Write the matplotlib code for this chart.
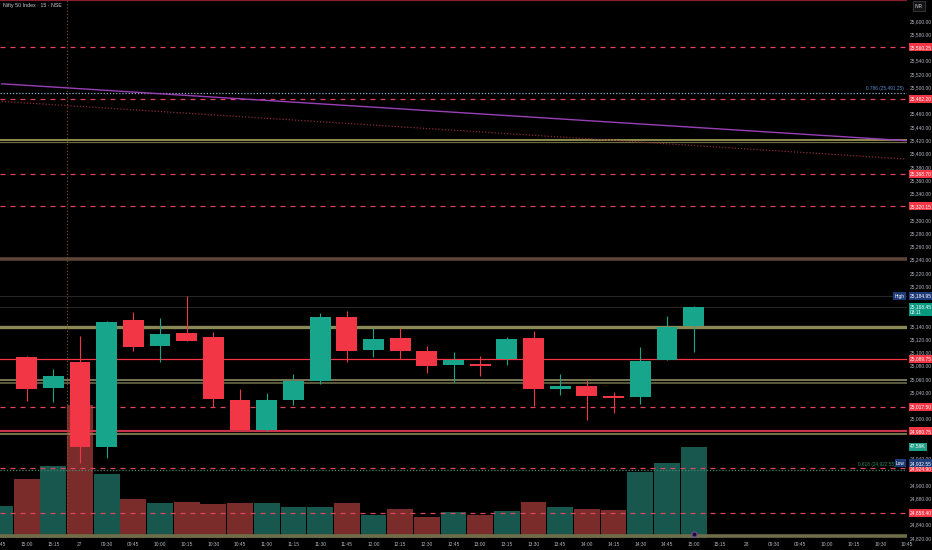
import matplotlib
matplotlib.use('Agg')
import matplotlib.pyplot as plt
import matplotlib.transforms as mtransforms

plt.rcParams['font.family'] = ['Liberation Sans', 'DejaVu Sans']

# ---------------- data ----------------
title = "Nifty 50 Index · 15 · NSE"

candle_idx = list(range(26))
opens  = [25093.3, 25045.7, 25085.3, 24957.9, 25148.5, 25109.9, 25129.0, 25122.5, 25028.1, 24983.4,
          25028.1, 25057.2, 25154.1, 25103.4, 25121.0, 25101.4, 25080.8, 25082.0, 25089.8, 25121.9,
          25044.7, 25049.7, 25034.6, 25032.0, 25088.8, 25140.0]
highs  = [25095.0, 25074.8, 25124.9, 25147.5, 25161.6, 25151.5, 25184.95, 25131.5, 25044.7, 25038.7,
          25067.3, 25159.1, 25162.5, 25137.5, 25137.5, 25108.9, 25099.9, 25094.8, 25122.5, 25132.4,
          25067.3, 25058.7, 25039.7, 25107.4, 25155.0, 25170.0]
lows   = [25027.1, 25024.7, 24932.55, 24940.4, 25102.3, 25084.9, 25117.0, 25017.1, 24982.5, 24982.0,
          25021.1, 25052.2, 25084.9, 25092.4, 25089.8, 25068.8, 25055.7, 25064.7, 25080.8, 25018.7,
          25035.7, 24998.5, 25008.6, 25022.1, 25088.0, 25099.9]
closes = [25045.1, 25063.8, 24957.9, 25146.6, 25108.3, 25127.5, 25117.4, 25029.6, 24983.4, 25028.6,
          25057.2, 25154.1, 25102.3, 25120.0, 25101.4, 25078.9, 25088.8, 25080.0, 25120.0, 25044.7,
          25048.8, 25033.7, 25031.6, 25087.3, 25138.4, 25168.45]

vol_idx = list(range(-1, 26))
volumes_k = [16.7, 30.7, 37.5, 69.3, 33.5, 20.3, 18.4, 18.9, 17.7, 18.1, 18.4, 16.3, 16.0, 18.4,
             12.0, 15.1, 11.1, 13.4, 12.0, 14.1, 18.9, 16.2, 15.0, 14.6, 34.4, 39.2, 47.59]
vol_dir = ['up', 'down', 'up', 'down', 'up', 'down', 'up', 'down', 'down', 'down', 'up', 'up', 'up',
           'down', 'up', 'down', 'down', 'up', 'down', 'up', 'down', 'up', 'down', 'down', 'up', 'up', 'up']

x_tick_pos = list(range(-1, 34))
x_tick_labels = ["14:45", "15:00", "15:15", "27", "09:30", "09:45", "10:00", "10:15", "10:30", "10:45",
                 "11:00", "11:15", "11:30", "11:45", "12:00", "12:15", "12:30", "12:45", "13:00", "13:15",
                 "13:30", "13:45", "14:00", "14:15", "14:30", "14:45", "15:00", "15:15", "28", "09:30",
                 "09:45", "10:00", "10:15", "10:30", "10:45"]

price_ticks = [24820, 24840, 24880, 24900, 24940, 25000, 25040, 25060, 25080, 25100, 25120, 25140,
               25200, 25220, 25240, 25260, 25280, 25300, 25340, 25360, 25380, 25400, 25420, 25440,
               25460, 25500, 25520, 25540, 25580, 25600]

dashed_levels = [25560.25, 25482.20, 25368.70, 25320.15, 25017.50, 24924.90, 24858.40]
red_solid_levels = [25089.75, 24980.75]
olive_levels = [25419.8, 25416.8, 25139.0, 25058.0, 25053.5, 24977.0, 24823.5]
brown_level = 25240.3
top_level = 25631.0
high_val, low_val, last_val = 25184.95, 24932.55, 25168.45
fib_786, fib_618 = 25491.25, 24922.55
session_break = 1.5

trend_x = [-0.934, 32.96]
purple_trend = [25505.2, 25419.4]
red_trend = [25478.6, 25391.7]

# ---------------- styles ----------------
BG = '#000000'
UP = '#17a68c'
DN = '#f23645'
VUP = '#17574d'
VDN = '#7a2c2b'
AXC = '#b2b5be'

fig = plt.figure(figsize=(9.32, 5.5), dpi=100, facecolor=BG)
ax2 = fig.add_axes([0, 12/550, 907/932, 538/550])
ax = fig.add_axes([0, 12/550, 907/932, 538/550], sharex=ax2)
ax2.set_facecolor(BG)
ax.patch.set_visible(False)

xlim = (-0.934, 32.96)
ylim = (24821.96, 25631.6)
ax.set_xlim(*xlim)
ax.set_ylim(*ylim)

# volume
ax2.bar(vol_idx, volumes_k, width=0.97, color=[VUP if d == 'up' else VDN for d in vol_dir],
        edgecolor='none', zorder=1)
ax2.set_ylim(0, 280.4)
ax2.set_yticks([])
for s in ax2.spines.values():
    s.set_visible(False)

# horizontal levels
ax.axhline(top_level, color='#8a1c30', lw=1.6, zorder=2)
for lv in dashed_levels:
    ax.axhline(lv, color='#e0455f', lw=0.9, dashes=(4, 4), zorder=2)
ax.axhline(red_solid_levels[0], color='#f23645', lw=0.9, zorder=2)
ax.axhline(red_solid_levels[1], color='#c9344a', lw=1.6, zorder=2)
olive_cols = ['#a6a45c', '#6e6c40', '#8a8856', '#8d8b62', '#6a6a48', '#8a8856', '#6f6d48']
olive_lw = [1.2, 0.9, 2.4, 1.2, 1.2, 1.2, 2.6]
for lv, c, w in zip(olive_levels, olive_cols, olive_lw):
    ax.axhline(lv, color=c, lw=w, zorder=2)
ax.axhline(brown_level, color='#5c4536', lw=2.6, zorder=2)
ax.axhline(high_val, color='#2e2e2e', lw=0.6, zorder=2)
ax.axhline(last_val, color='#2e2e2e', lw=0.6, zorder=2)
ax.axhline(fib_786, color='#8fb3c9', lw=0.9, ls=(0, (1, 1.5)), zorder=2)
ax.axhline(fib_618, color='#3d8a6a', lw=0.9, ls=(0, (1, 1.5)), zorder=2)
ax.axvline(session_break, color='#8a5a22', lw=0.8, ls=(0, (1, 2)), zorder=2)

# trend lines
ax.plot(trend_x, purple_trend, color='#9a3fb8', lw=1.0, zorder=3)
ax.plot(trend_x, red_trend, color='#8a2a3a', lw=0.9, ls=(0, (1, 1.5)), zorder=3)

# candles
for i, o, h, l, c in zip(candle_idx, opens, highs, lows, closes):
    col = UP if c >= o else DN
    ax.vlines(i, l, h, color=col, lw=0.8, zorder=4)
    ax.bar(i, max(abs(c - o), 1.5), bottom=min(o, c), width=0.78, color=col, edgecolor='none', zorder=5)

# event marker
ax.scatter([25], [0.008], transform=mtransforms.blended_transform_factory(ax.transData, ax.transAxes),
           s=14, facecolor='#1a1030', edgecolor='#7a4aa0', lw=0.8, zorder=6, clip_on=False)

# axes formatting
ax.yaxis.tick_right()
ax.set_yticks(price_ticks)
ax.set_yticklabels([f"{v:,.2f}" for v in price_ticks])
ax.tick_params(axis='y', length=0, pad=2.2, labelsize=3.5, labelcolor=AXC)
ax.set_xticks(x_tick_pos)
ax.set_xticklabels(x_tick_labels)
ax.tick_params(axis='x', length=0, pad=2.6, labelsize=3.5, labelcolor=AXC)
ax2.tick_params(axis='x', length=0, labelbottom=False)
for s in ax.spines.values():
    s.set_visible(False)

# title
fig.text(3/932, 1 - 6/550, title, color='#c8cad0', fontsize=3.8, va='center', ha='left')

# INR box
fig.text(919/932, 1 - 6/550, "INR", color='#d1d4dc', fontsize=3.3, ha='center', va='center',
         bbox=dict(boxstyle='square,pad=0.5', fc='#131313', ec='#444444', lw=0.5))

# right side labels
yt = mtransforms.blended_transform_factory(ax.transAxes, ax.transData)

def rlabel(val, text, fc, tc='white', x=1.0035):
    ax.text(x, val, text, transform=yt, fontsize=3.5, color=tc, ha='left', va='center',
            bbox=dict(boxstyle='square,pad=0.3', fc=fc, ec='none'), zorder=10, clip_on=False)

for lv in dashed_levels + red_solid_levels:
    rlabel(lv, f"{lv:,.2f}", '#f23645')
rlabel(high_val, f"{high_val:,.2f}", '#1e3a78')
rlabel(low_val, f"{low_val:,.2f}", '#1e3a78')
ax.text(0.9975, high_val, "High", transform=yt, fontsize=3.4, color='white', ha='right', va='center',
        bbox=dict(boxstyle='square,pad=0.3', fc='#1e3a78', ec='none'), zorder=10, clip_on=False)
ax.text(0.9975, low_val, "Low", transform=yt, fontsize=3.4, color='white', ha='right', va='center',
        bbox=dict(boxstyle='square,pad=0.3', fc='#1e3a78', ec='none'), zorder=10, clip_on=False)
ax.text(1.0035, last_val - 3.5, f"{last_val:,.2f}\n03:11", transform=yt, fontsize=3.5, color='white',
        ha='left', va='center', linespacing=1.1,
        bbox=dict(boxstyle='square,pad=0.3', fc='#089981', ec='none'), zorder=10, clip_on=False)
vt = mtransforms.blended_transform_factory(ax2.transAxes, ax2.transData)
ax.text(1.0035, volumes_k[-1], f"{volumes_k[-1]:.2f}K", transform=vt, fontsize=3.5, color='white',
        ha='left', va='center', bbox=dict(boxstyle='square,pad=0.3', fc='#1f9e88', ec='none'),
        zorder=10, clip_on=False)

# fib labels
ax.text(0.997, fib_786 + 3, f"0.786 ({fib_786:,.2f})", transform=yt, fontsize=3.4, color='#5b8fd0',
        ha='right', va='bottom', zorder=8)
ax.text(0.988, fib_618 + 4, f"0.618 ({fib_618:,.2f})", transform=yt, fontsize=3.4, color='#2f8f5f',
        ha='right', va='bottom', zorder=8)

fig.savefig('out.png', dpi=100, facecolor=BG)
